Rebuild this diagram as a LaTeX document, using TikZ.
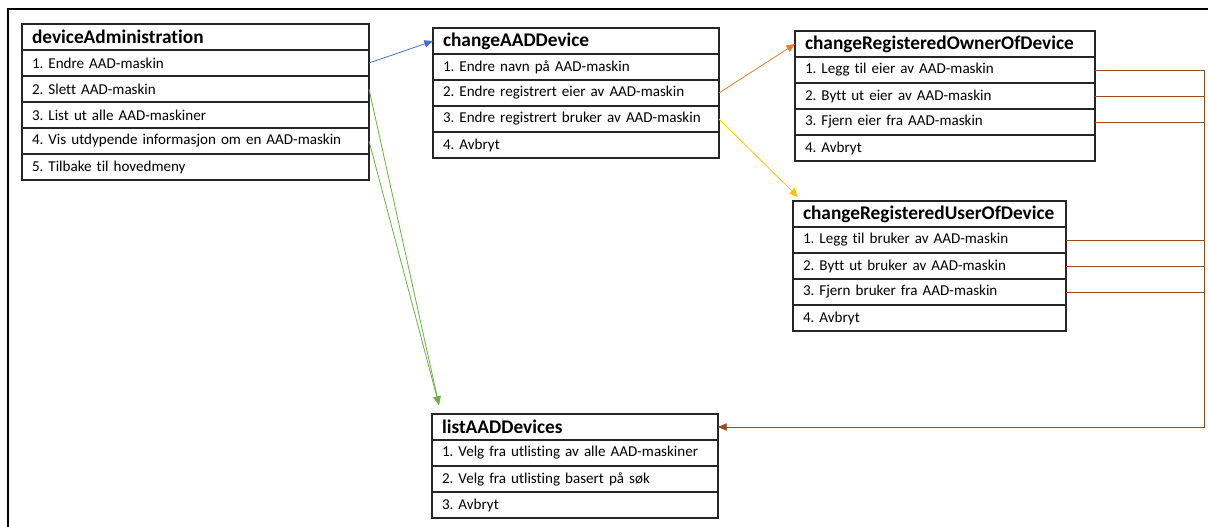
\documentclass[tikz,border=0pt]{standalone}
\usepackage{fontspec}
\setmainfont{Carlito}[Ligatures=NoCommon]
\usetikzlibrary{positioning,arrows.meta}
\frenchspacing

\definecolor{linkblue}{HTML}{4472C4}
\definecolor{linkorange}{HTML}{ED7D31}
\definecolor{linkyellow}{HTML}{FFC000}
\definecolor{linkgreen}{HTML}{70AD47}
\definecolor{linkbrown}{HTML}{9A4A1C}

\tikzset{
  menu head/.style={draw=black!85, line width=0.8pt, outer sep=0pt,
    inner xsep=7.5pt, inner ysep=0pt, minimum height=19.5pt, align=left,
    font=\fontsize{14.5}{16}\selectfont\bfseries},
  menu row/.style={menu head, font=\fontsize{11.3}{13}\selectfont},
  link/.style={line width=0.6pt, -{Triangle[length=6.5pt,width=5.5pt]}}
}

\begin{document}
\begin{tikzpicture}[x=0.75pt, y=-0.75pt]
\useasboundingbox (0,0) rectangle (1208,527);
\draw[line width=1.2pt] (1208,9) -- (8,9) -- (8,527);

% main menu
\node[menu head, text width=245.25pt, anchor=north west] (dev0) at (22,24) {deviceAdministration};
\foreach \t [count=\i, remember=\i as \j (initially 0)] in
  {1. Endre AAD-maskin, 2. Slett AAD-maskin, 3. List ut alle AAD-maskiner,
   4. Vis utdypende informasjon om en AAD-maskin, 5. Tilbake til hovedmeny}
  \node[menu row, text width=245.25pt, below=0pt of dev\j] (dev\i) {\t};

% change device
\node[menu head, text width=199.5pt, anchor=north west] (chg0) at (433,28) {changeAADDevice};
\foreach \t [count=\i, remember=\i as \j (initially 0)] in
  {1. Endre navn på AAD-maskin, 2. Endre registrert eier av AAD-maskin,
   3. Endre registrert bruker av AAD-maskin, 4. Avbryt}
  \node[menu row, text width=199.5pt, below=0pt of chg\j] (chg\i) {\t};

% owner
\node[menu head, text width=210pt, anchor=north west] (own0) at (795,31) {changeRegisteredOwnerOfDevice};
\foreach \t [count=\i, remember=\i as \j (initially 0)] in
  {1. Legg til eier av AAD-maskin, 2. Bytt ut eier av AAD-maskin,
   3. Fjern eier fra AAD-maskin, 4. Avbryt}
  \node[menu row, text width=210pt, below=0pt of own\j] (own\i) {\t};

% user
\node[menu head, text width=189.75pt, anchor=north west] (usr0) at (793,201) {changeRegisteredUserOfDevice};
\foreach \t [count=\i, remember=\i as \j (initially 0)] in
  {1. Legg til bruker av AAD-maskin, 2. Bytt ut bruker av AAD-maskin,
   3. Fjern bruker fra AAD-maskin, 4. Avbryt}
  \node[menu row, text width=189.75pt, below=0pt of usr\j] (usr\i) {\t};

% list
\node[menu head, text width=199.5pt, anchor=north west] (list0) at (432,414) {listAADDevices};
\foreach \t [count=\i, remember=\i as \j (initially 0)] in
  {1. Velg fra utlisting av alle AAD-maskiner, 2. Velg fra utlisting basert på søk, 3. Avbryt}
  \node[menu row, text width=199.5pt, below=0pt of list\j] (list\i) {\t};

\coordinate (bus) at (1204,0);
\coordinate (listIn) at (439,405);
\coordinate (usrIn) at (798,197);

\draw[link, linkblue] (dev1.east) -- (chg0.west);
\draw[link, linkgreen] (dev2.east) -- (listIn);
\draw[link, linkgreen] (dev4.east) -- (listIn);
\draw[link, linkorange] (chg2.east) -- (own0.west);
\draw[link, linkyellow] (chg3.east) -- (usrIn);

\draw[link, linkbrown] (own1.east) -| (bus |- list0.east) -- (list0.east);
\foreach \r in {own2,own3,usr1,usr2,usr3}
  \draw[line width=0.6pt, linkbrown] (\r.east) -- (\r.east -| bus);
\end{tikzpicture}
\end{document}
